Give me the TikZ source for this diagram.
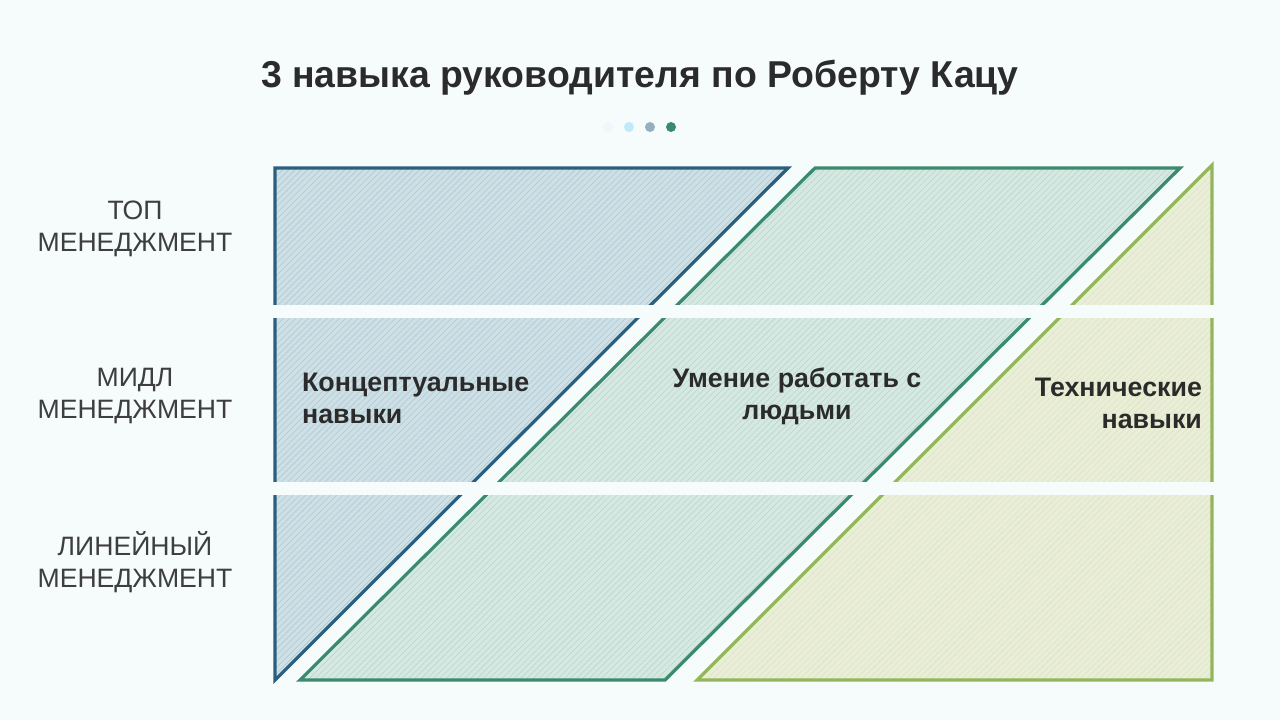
\documentclass[tikz,border=0pt]{standalone}
\usepackage{fontspec}
\setmainfont{Liberation Sans}
\usetikzlibrary{patterns.meta}
\definecolor{bgcol}{HTML}{F6FCFC}
\definecolor{titlecol}{HTML}{2B2B2B}
\definecolor{levelcol}{HTML}{3E3E3E}
\definecolor{conceptline}{HTML}{2A5F7F}
\definecolor{conceptfill}{HTML}{CCE0E6}
\definecolor{peopleline}{HTML}{3A8A6D}
\definecolor{peoplefill}{HTML}{D5E9E2}
\definecolor{techline}{HTML}{94B65A}
\definecolor{techfill}{HTML}{EAEED7}

\begin{document}
\begin{tikzpicture}[
    x=0.5pt, y=-0.5pt,
    level/.style={
        text=levelcol,
        align=center,
        font=\fontsize{13.3}{16}\selectfont
    },
    skill/.style={
        text=titlecol,
        font=\bfseries\fontsize{13.4}{16}\selectfont
    },
    hatch/.style={
        line width=1.6pt,
        line join=miter
    }
]

% background
\fill[bgcol] (0,0) rectangle (1280,720);

\node[text=titlecol, font=\bfseries\fontsize{18.7}{21}\selectfont] (title) at (640,78)
    {3 навыка руководителя по Роберту Кацу};

% dots
\fill[cyan!8] (608,127) circle (5);
\fill[cyan!25] (629,127) circle (5);
\fill[conceptline!50] (650,127) circle (5);
\fill[peopleline] (671,127) circle (5);

% skill shapes
\fill[conceptfill] (275,168) -- (788,168) -- (275,680) -- cycle;
\fill[pattern={Lines[angle=45,distance=2.2pt,line width=0.3pt]}, pattern color=conceptline!35]
    (275,168) -- (788,168) -- (275,680) -- cycle;
\draw[hatch, conceptline] (275,168) -- (788,168) -- (275,680) -- cycle;

\fill[peoplefill] (815,168) -- (1180,168) -- (665,680) -- (300,680) -- cycle;
\fill[pattern={Lines[angle=45,distance=2.2pt,line width=0.3pt]}, pattern color=peopleline!35]
    (815,168) -- (1180,168) -- (665,680) -- (300,680) -- cycle;
\draw[hatch, peopleline] (815,168) -- (1180,168) -- (665,680) -- (300,680) -- cycle;

\fill[techfill] (1212,165) -- (1212,680) -- (697,680) -- cycle;
\fill[pattern={Lines[angle=45,distance=2.2pt,line width=0.3pt]}, pattern color=techline!35]
    (1212,165) -- (1212,680) -- (697,680) -- cycle;
\draw[hatch, techline] (1212,165) -- (1212,680) -- (697,680) -- cycle;

% gaps between levels
\fill[bgcol] (262,305) rectangle (1225,318);
\fill[bgcol] (262,482) rectangle (1225,495);

% levels
\node[level] (top) at (135,229) {ТОП\\МЕНЕДЖМЕНТ};
\node[level] (mid) at (135,396) {МИДЛ\\МЕНЕДЖМЕНТ};
\node[level] (line) at (135,562) {ЛИНЕЙНЫЙ\\МЕНЕДЖМЕНТ};

% skills
\node[skill, align=left, anchor=west] (concept) at (295,398) {Концептуальные\\навыки};
\node[skill, align=center] (people) at (797,396) {Умение работать с\\людьми};
\node[skill, align=right, anchor=east] (tech) at (1209,403) {Технические\\навыки};

\end{tikzpicture}
\end{document}
